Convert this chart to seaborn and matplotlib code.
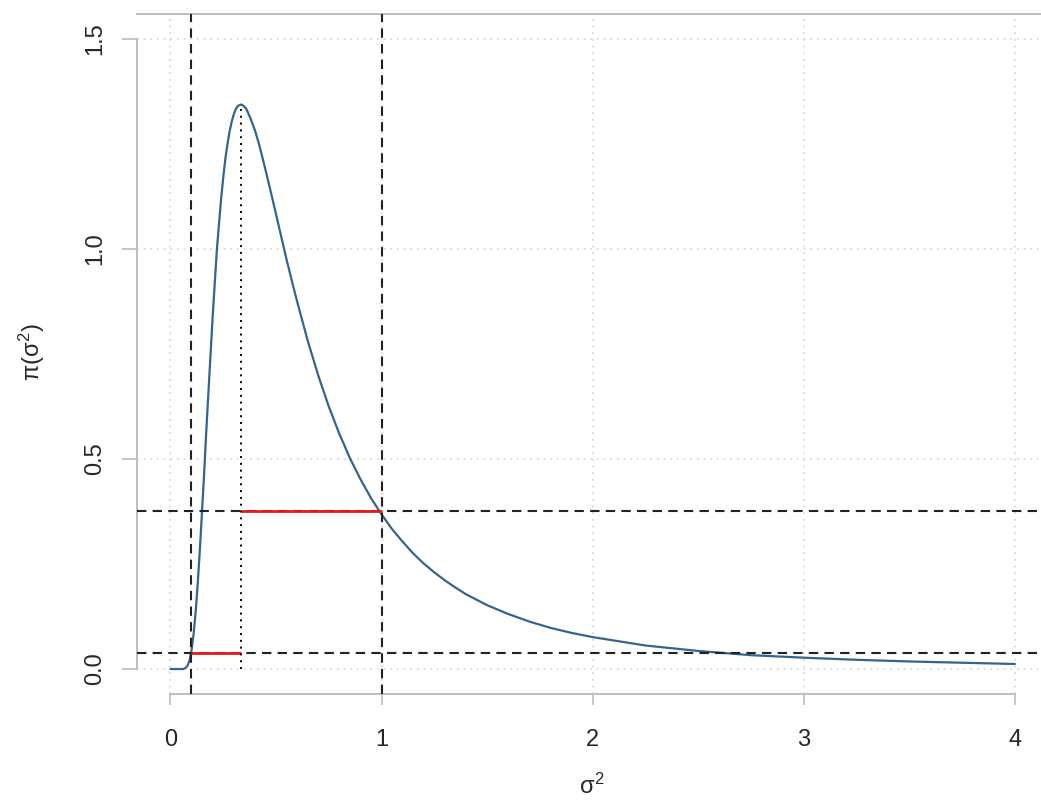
import numpy as np
import pandas as pd
import matplotlib
matplotlib.use("Agg")
import matplotlib.pyplot as plt
import seaborn as sns

# density curve
sigma2 = [0.0, 0.02, 0.04, 0.06, 0.07, 0.08, 0.09, 0.10, 0.11, 0.12, 0.13, 0.14,
          0.15, 0.16, 0.17, 0.18, 0.19, 0.20, 0.21, 0.22, 0.23, 0.24, 0.25, 0.26,
          0.27, 0.28, 0.29, 0.30, 0.31, 0.32, 0.333, 0.34, 0.35, 0.36, 0.38,
          0.40, 0.42, 0.45, 0.48, 0.50, 0.53, 0.55, 0.58, 0.60, 0.65, 0.70,
          0.75, 0.80, 0.85, 0.90, 0.95, 1.0, 1.05, 1.1, 1.15, 1.2, 1.25, 1.3,
          1.35, 1.4, 1.45, 1.5, 1.6, 1.7, 1.8, 1.9, 2.0, 2.25, 2.5, 2.75, 3.0,
          3.25, 3.5, 3.75, 4.0]
density = [0.0, 0.0, 0.0, 0.0, 0.002, 0.007, 0.02, 0.045, 0.085, 0.14, 0.21, 0.29,
           0.38, 0.47, 0.57, 0.66, 0.75, 0.84, 0.92, 1.00, 1.06, 1.12, 1.17, 1.215,
           1.25, 1.28, 1.303, 1.321, 1.334, 1.341, 1.344, 1.343, 1.339, 1.333, 1.31,
           1.283, 1.249, 1.189, 1.126, 1.083, 1.018, 0.975, 0.914, 0.875, 0.782, 0.699,
           0.625, 0.560, 0.502, 0.452, 0.407, 0.368, 0.333, 0.303, 0.275, 0.251, 0.230, 0.211,
           0.194, 0.178, 0.165, 0.152, 0.131, 0.113, 0.098, 0.086, 0.076, 0.056, 0.043,
           0.033, 0.027, 0.022, 0.018, 0.015, 0.012]

# reference levels
x_low = 0.095
x_mode = 0.333
x_high = 1.0
y_mode = 1.344
y_low = 0.038
y_high = 0.377

x_ticks = [0, 1, 2, 3, 4]
y_ticks = [0.0, 0.5, 1.0, 1.5]
y_ticklabels = ["0.0", "0.5", "1.0", "1.5"]

df = pd.DataFrame({"sigma2": sigma2, "density": density})

sns.set_style("white")
plt.rcParams["font.family"] = ["Liberation Sans", "DejaVu Sans"]
plt.rcParams["mathtext.fontset"] = "custom"
plt.rcParams["mathtext.rm"] = "Liberation Sans"
plt.rcParams["mathtext.it"] = "Liberation Sans"
plt.rcParams["mathtext.bf"] = "Liberation Sans:bold"

fig = plt.figure(figsize=(10.41, 8.01), dpi=100)
ax = fig.add_axes([0.1313, 0.1333, 0.8761, 0.8494])

ax.set_xlim(-0.16, 4.16)
ax.set_ylim(-0.06, 1.56)

# grid
for gx in x_ticks:
    ax.axvline(gx, color="#D3D3D3", ls=(0, (1, 3)), lw=1.2, zorder=0)
for gy in y_ticks:
    ax.axhline(gy, color="#D3D3D3", ls=(0, (1, 3)), lw=1.2, zorder=0)

sns.lineplot(data=df, x="sigma2", y="density", ax=ax, color="#36648B",
             lw=1.6, sort=False, zorder=2)

dash = (0, (4.5, 3))
ax.axvline(x_low, color="#222222", ls=dash, lw=1.5, zorder=3)
ax.axvline(x_high, color="#222222", ls=dash, lw=1.5, zorder=3)
ax.axhline(y_low, color="#222222", ls=dash, lw=1.5, zorder=3)
ax.axhline(y_high, color="#222222", ls=dash, lw=1.5, zorder=3)

ax.hlines(y_low, x_low, x_mode, color="#E41A1C", lw=2.0, zorder=4)
ax.hlines(y_high, x_mode, x_high, color="#E41A1C", lw=2.0, zorder=4)
ax.vlines(x_mode, 0, y_mode, color="black", ls=(0, (1, 2.5)), lw=1.4, zorder=4)

# R style axes
ax.spines["right"].set_visible(False)
for s in ["top", "left", "bottom"]:
    ax.spines[s].set_color("#BEBEBE")
    ax.spines[s].set_linewidth(1.4)
ax.spines["left"].set_bounds(0, 1.5)
ax.spines["bottom"].set_bounds(0, 4)

ax.set_xticks(x_ticks)
ax.set_xticklabels([str(t) for t in x_ticks])
ax.set_yticks(y_ticks)
ax.set_yticklabels(y_ticklabels, rotation=90, va="center")
ax.tick_params(axis="x", direction="out", length=8, width=1.2, color="#BEBEBE",
               pad=17, labelsize=17, bottom=True)
ax.tick_params(axis="y", direction="out", length=11, width=1.2, color="#BEBEBE",
               pad=11, labelsize=17, left=True)

ax.set_xlabel("")
ax.set_ylabel("")
fig.text(592 / 1041, 1 - 799 / 801, r"$\sigma^2$", ha="center", va="bottom", fontsize=17)
fig.text(32 / 1041, 1 - 352 / 801, r"$\pi(\sigma^2)$", ha="center", va="center",
         rotation=90, fontsize=17)

fig.savefig("out.png", dpi=100)
